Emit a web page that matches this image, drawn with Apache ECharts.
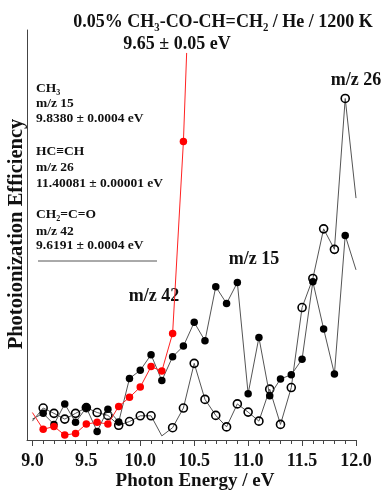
<!DOCTYPE html>
<html>
<head>
<meta charset="utf-8">
<script src="https://cdn.jsdelivr.net/npm/echarts@6/dist/echarts.min.js"></script>
<style>
  html, body { margin: 0; padding: 0; background: #fff; }
  #chart { width: 383px; height: 492px; }
</style>
</head>
<body>
<div id="chart"></div>
<script>
// photon energy (eV)
const energies = [9.0, 9.1, 9.2, 9.3, 9.4, 9.5, 9.6, 9.7, 9.8, 9.9,
  10.0, 10.1, 10.2, 10.3, 10.4, 10.5, 10.6, 10.7, 10.8, 10.9,
  11.0, 11.1, 11.2, 11.3, 11.4, 11.5, 11.6, 11.7, 11.8, 11.9, 12.0];
// m/z 15 (filled black)
const mz15 = [5.1, 6.5, 3.8, 8.8, 4.3, 7.9, 2.1, 7.5, 4.4, 15.0,
  17.0, 20.8, 14.5, 20.3, 22.9, 28.7, 24.2, 37.4, 33.3, 38.4,
  11.3, 25.0, 10.8, 14.9, 15.9, 19.7, 38.6, 27.1, 16.1, 49.9, 41.5];
// m/z 26 (open circles)
const mz26 = [4.6, 7.8, 6.5, 5.1, 6.5, 7.9, 6.7, 6.0, 3.6, 4.5,
  5.9, 5.9, 1.0, 3.0, 7.8, 18.7, 9.9, 6.0, 3.2, 8.8,
  6.8, 4.6, 12.4, 3.8, 12.8, 32.3, 39.4, 51.5, 46.5, 83.3, 59.0];
// m/z 42 (red), 9.0 - 10.4 eV, then the line runs off the top
const mz42 = [6.7, 2.6, 3.3, 1.2, 1.6, 3.9, 4.3, 3.9, 8.2, 10.4,
  12.9, 17.9, 16.8, 26.0, 72.8];
const mz42TipEnergy = 10.43;
const mz42Tip = 94.4;
// points drawn without a marker
const noMarker15 = [0, 30];
const noMarker26 = [0, 12, 30];
const noMarker42 = [0];

const tickLabels = [9.0, 9.5, 10.0, 10.5, 11.0, 11.5, 12.0];
const minorTicks = energies;

function build (values, hidden) {
  return values.map(function (v, i) {
    const item = { value: [energies[i], v] };
    if (hidden.indexOf(i) >= 0) item.symbol = 'none';
    return item;
  });
}

const redData = build(mz42, noMarker42);
redData.push({ value: [mz42TipEnergy, mz42Tip], symbol: 'none' });

const font = 'Liberation Serif';
const txt = function (text, x, y, size, align) {
  return {
    type: 'text', x: x, y: y,
    style: {
      text: text, fill: '#111', font: 'bold ' + size + 'px "' + font + '"',
      textAlign: align || 'left', textVerticalAlign: 'middle'
    }
  };
};

const chart = echarts.init(document.getElementById('chart'));
chart.setOption({
  animation: false,
  backgroundColor: '#fff',
  grid: { left: 27, right: 27, top: 30, bottom: 52 },
  xAxis: [{
    type: 'value', min: 8.95, max: 12.0,
    axisLine: { show: true, onZero: false, lineStyle: { color: '#444', width: 1 } },
    axisTick: { show: true, customValues: minorTicks, length: 4, lineStyle: { color: '#444' } },
    axisLabel: { show: false },
    splitLine: { show: false }
  }, {
    type: 'value', min: 8.95, max: 12.0, position: 'bottom',
    axisLine: { show: false },
    axisTick: { show: true, customValues: tickLabels, length: 6, lineStyle: { color: '#444' } },
    axisLabel: {
      show: true, customValues: tickLabels, margin: 12,
      color: '#111', fontFamily: font, fontWeight: 'bold', fontSize: 18,
      formatter: function (v) { return v.toFixed(1); }
    },
    splitLine: { show: false }
  }],
  yAxis: {
    type: 'value', min: 0, max: 100,
    axisLine: { show: true, onZero: false, lineStyle: { color: '#444', width: 1 } },
    axisTick: { show: false },
    axisLabel: { show: false },
    splitLine: { show: false }
  },
  series: [
    {
      name: 'm/z 26', type: 'line', data: build(mz26, noMarker26),
      symbol: 'circle', symbolSize: 8,
      lineStyle: { color: '#555', width: 1 },
      itemStyle: { color: 'rgba(0,0,0,0)', borderColor: '#000', borderWidth: 1.6 },
      z: 2
    },
    {
      name: 'm/z 15', type: 'line', data: build(mz15, noMarker15),
      symbol: 'circle', symbolSize: 7.5,
      lineStyle: { color: '#555', width: 1 },
      itemStyle: { color: '#000', borderWidth: 0 },
      z: 3
    },
    {
      name: 'm/z 42', type: 'line', data: redData,
      symbol: 'circle', symbolSize: 7.5,
      lineStyle: { color: '#f22', width: 1 },
      itemStyle: { color: '#f00', borderWidth: 0 },
      z: 4
    }
  ],
  graphic: [
    txt('0.05% CH₃-CO-CH=CH₂ / He / 1200 K', 223, 22, 18, 'center'),
    txt('9.65 ± 0.05 eV', 177, 44, 18, 'center'),
    txt('CH₃', 36, 89, 13.5),
    txt('m/z 15', 36, 103.5, 13.5),
    txt('9.8380 ± 0.0004 eV', 36, 119, 13.5),
    txt('HC≡CH', 36, 152, 13.5),
    txt('m/z 26', 36, 168, 13.5),
    txt('11.40081 ± 0.00001 eV', 36, 184, 13.5),
    txt('CH₂=C=O', 36, 215, 13.5),
    txt('m/z 42', 36, 231.5, 13.5),
    txt('9.6191 ± 0.0004 eV', 36, 246, 13.5),
    {
      type: 'line', shape: { x1: 38, y1: 261, x2: 157, y2: 261 },
      style: { stroke: '#555', lineWidth: 1 }
    },
    txt('m/z 42', 154, 296, 18, 'center'),
    txt('m/z 15', 254, 259, 18, 'center'),
    txt('m/z 26', 356, 80, 18, 'center'),
    txt('Photon Energy / eV', 195, 481, 19, 'center'),
    Object.assign(txt('Photoionization Efficiency', 17, 234, 20.5, 'center'), { rotation: Math.PI / 2 })
  ]
});
</script>
</body>
</html>
